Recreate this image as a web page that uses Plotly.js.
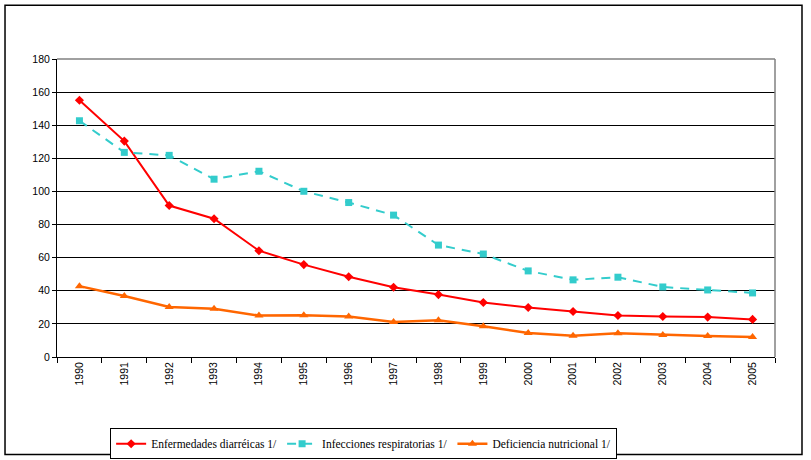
<!DOCTYPE html>
<html>
<head>
<meta charset="utf-8">
<script src="https://cdn.plot.ly/plotly-3.0.1.min.js"></script>
<style>html,body{margin:0;padding:0;background:#fff;}#chart{width:811px;height:460px;}</style>
</head>
<body>
<div id="chart"></div>
<script>
var years = ["1990","1991","1992","1993","1994","1995","1996","1997","1998","1999","2000","2001","2002","2003","2004","2005"];
var diarreicas = [155.1, 130.4, 91.5, 83.5, 64.2, 55.8, 48.5, 42.1, 37.7, 32.9, 29.9, 27.5, 25.1, 24.5, 24.1, 22.7];
var respiratorias = [142.7, 123.6, 121.8, 107.4, 112.2, 100.1, 93.3, 85.7, 67.6, 62.2, 52.0, 46.6, 48.2, 42.3, 40.5, 38.7];
var nutricional = [42.8, 36.8, 30.2, 29.2, 25.0, 25.2, 24.4, 21.2, 22.2, 18.6, 14.5, 12.9, 14.3, 13.3, 12.7, 12.1];
var seriesNames = ["Enfermedades diarréicas 1/", "Infecciones respiratorias 1/", "Deficiencia nutricional 1/"];
var yTicks = [0, 20, 40, 60, 80, 100, 120, 140, 160, 180];

var traces = [
  {x: years, y: diarreicas, name: seriesNames[0], type: "scatter", mode: "lines+markers",
   line: {color: "#FF0000", width: 2}, marker: {symbol: "diamond", size: 7, color: "#FF0000"}},
  {x: years, y: respiratorias, name: seriesNames[1], type: "scatter", mode: "lines+markers",
   line: {color: "#33CCCC", width: 2, dash: "9px,7px"}, marker: {symbol: "square", size: 7, color: "#33CCCC"}},
  {x: years, y: nutricional, name: seriesNames[2], type: "scatter", mode: "lines+markers",
   line: {color: "#FF6600", width: 2.5}, marker: {symbol: "triangle-up", size: 8, color: "#FF6600"}}
];

var layout = {
  width: 811, height: 460,
  margin: {l: 57, r: 36, t: 59, b: 103, autoexpand: false},
  paper_bgcolor: "#ffffff", plot_bgcolor: "#ffffff",
  showlegend: true,
  legend: {orientation: "h", x: 0.074, y: -0.239, xanchor: "left", yanchor: "top",
           bordercolor: "#000000", borderwidth: 1, bgcolor: "#ffffff",
           font: {family: "Liberation Serif", size: 11.5, color: "#000"},
           itemwidth: 30, tracegroupgap: 0},
  xaxis: {type: "category", tickson: "boundaries", ticks: "outside", ticklen: 5, tickcolor: "#000",
          showline: true, linecolor: "#000", linewidth: 1, showgrid: false, zeroline: false, automargin: false,
          tickangle: -90, tickfont: {family: "Liberation Sans", size: 10.5, color: "#000"},
          range: [-0.5, 15.5], fixedrange: true},
  yaxis: {range: [0, 180], tickvals: yTicks, ticks: "outside", ticklen: 4, tickcolor: "#000", automargin: false,
          showline: true, linecolor: "#000", linewidth: 1, showgrid: true, gridcolor: "#000", gridwidth: 1,
          zeroline: false, tickfont: {family: "Liberation Sans", size: 10.5, color: "#000"}, fixedrange: true},
  shapes: [
    {type: "line", xref: "paper", yref: "paper", x0: 0, x1: 1, y0: 1, y1: 1, line: {color: "#808080", width: 1.5}, layer: "above"},
    {type: "line", xref: "paper", yref: "paper", x0: 1, x1: 1, y0: 0, y1: 1, line: {color: "#808080", width: 1.5}, layer: "above"},
    {type: "rect", xref: "paper", yref: "paper", x0: -0.0724, x1: 1.0376, y0: -0.327, y1: 1.18, line: {color: "#000", width: 1.5}, layer: "below"}
  ]
};

Plotly.newPlot("chart", traces, layout, {displayModeBar: false, staticPlot: true});
</script>
</body>
</html>
